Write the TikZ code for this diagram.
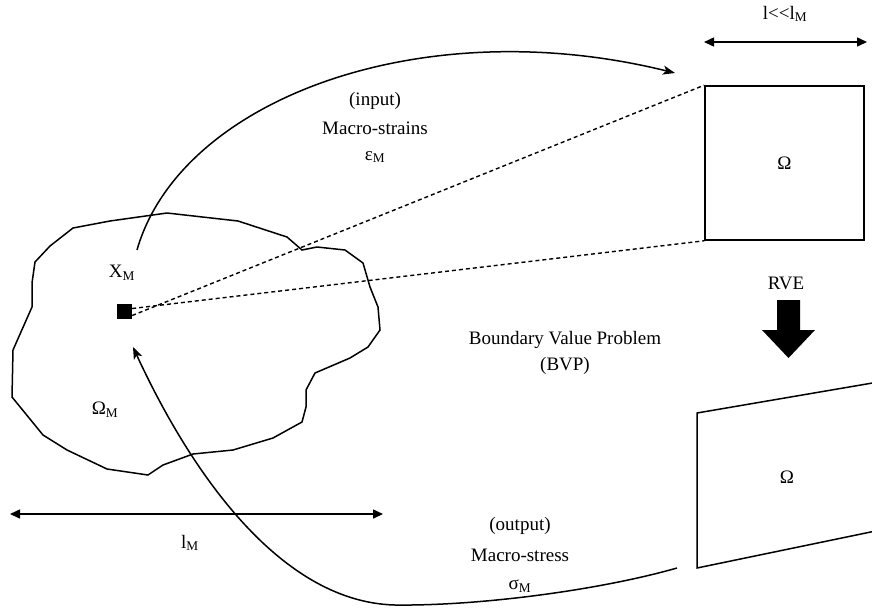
\documentclass[tikz,border=0pt]{standalone}
\usepackage{fontspec}
\setmainfont{Liberation Serif}
\usetikzlibrary{arrows.meta}
\newcommand{\subm}{\textsubscript{M}}
\begin{document}
\begin{tikzpicture}[x=1pt,y=-1pt,
  lbl/.style={font=\fontsize{19}{23}\selectfont, inner sep=0pt, anchor=center},
  edge/.style={line width=1.5pt},
  flow/.style={edge, -{Stealth[length=12pt,width=9pt,inset=3pt]}},
  span/.style={edge, {Triangle[length=10pt,width=9pt]}-{Triangle[length=10pt,width=9pt]}},
  link/.style={line width=1.4pt, dash pattern=on 4pt off 3pt},
  cellbox/.style={draw, line width=1.6pt, minimum width=159pt, minimum height=154pt, inner sep=0pt}]
\useasboundingbox (0,0) rectangle (872,611);
\clip (0,0) rectangle (872,611);

% macroscopic body
\draw[edge] (73,228) -- (50,246) -- (35,262) -- (32,283) -- (32,307) -- (13,350)
  -- (12,397) -- (43,435) -- (67,450) -- (107,469) -- (148,475) -- (163,465)
  -- (193,454) -- (233,450) -- (273,438) -- (302,422) -- (306,407) -- (306,390)
  -- (315,373) -- (350,358) -- (368,347) -- (380,330) -- (378,307) -- (370,287)
  -- (363,263) -- (345,250) -- (317,247) -- (302,250) -- (287,237) -- (238,221)
  -- (167,213) -- (110,221) -- cycle;

% material point and labels
\node[fill=black, minimum size=15pt, inner sep=0pt] (pt) at (124.5,311.5) {};
\node[lbl] (xm) at (122,273) {X\subm};
\node[lbl] (om) at (105,410) {Ω\subm};

% macroscopic length
\coordinate (lmA) at (10,514);
\coordinate (lmB) at (383,514);
\draw[span] (lmA) -- (lmB);
\node[lbl] (lm) at (190,543) {l\subm};

% representative volume element
\node[cellbox] (cell) at (784.5,163) {};
\node[lbl] at (cell.center) {Ω};
\coordinate (lA) at (704,42);
\coordinate (lB) at (867,42);
\draw[span] (lA) -- (lB);
\node[lbl] (lsmall) at (785,14) {l<\kern0pt<l\subm};
\node[lbl] (rve) at (786,283) {RVE};

% zoom lines
\draw[link] ([yshift=-4pt]pt.east) -- (cell.north west);
\draw[link] ([yshift=3pt]pt.east) -- (cell.south west);

% boundary value problem arrow
\fill (777,300) -- (800,300) -- (800,330) -- (815,330) -- (788.5,358)
  -- (762,330) -- (777,330) -- cycle;
\node[lbl] (bvp1) at (565,340) {Boundary Value Problem};
\node[lbl] (bvp2) at (565,366) {(BVP)};

% deformed cell
\coordinate (dTL) at (697,413);
\coordinate (dBL) at (697,568);
\draw[edge] (890,380) -- (dTL) -- (dBL) -- (890,528);
\node[lbl] (om2) at (787,477) {Ω};

% input: macro-strains
\coordinate (inS) at (137,250);
\coordinate (inE) at (675,73);
\draw[flow] (inS) .. controls (180,100) and (420,10) .. (inE);
\node[lbl] (in1) at (375,101) {(input)};
\node[lbl] (in2) at (375,128) {Macro-strains};
\node[lbl] (in3) at (375,157) {ε\subm};

% output: macro-stress
\coordinate (outS) at (677,568);
\coordinate (outM) at (395,605);
\coordinate (outE) at (133,347);
\draw[flow] (outS) .. controls (600,590) and (480,606) .. (outM)
  .. controls (275,602) and (185,460) .. (outE);
\node[lbl] (out1) at (520,526) {(output)};
\node[lbl] (out2) at (520,555) {Macro-stress};
\node[lbl] (out3) at (520,586) {σ\subm};
\end{tikzpicture}
\end{document}
